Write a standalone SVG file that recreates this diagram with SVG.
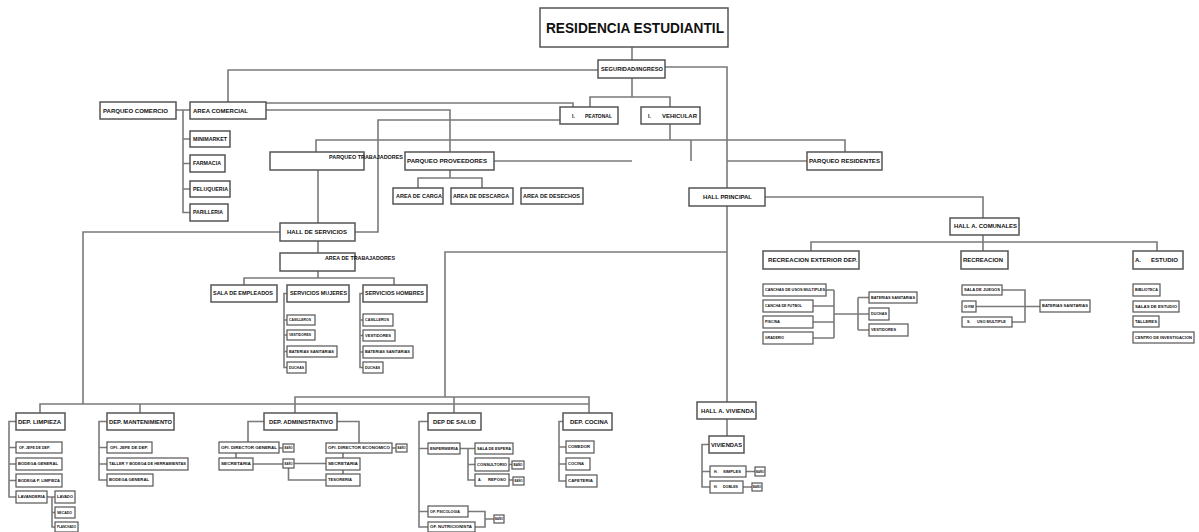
<svg xmlns="http://www.w3.org/2000/svg" width="1199" height="532" viewBox="0 0 1199 532">
<style>
rect{fill:#fff;stroke:#555;stroke-width:1.5}
rect.s{stroke-width:1.2}
text{font-family:"Liberation Sans",Arial,sans-serif;fill:#111;font-weight:bold}
.t{font-size:15px}
.l{font-size:6px}
.m{font-size:5.2px}
.s{font-size:3.6px}
.x{font-size:2.8px}
#connectors path{fill:none;stroke:#7a7a7a;stroke-width:1.6}
</style>
<rect x="0" y="0" width="1199" height="532" style="fill:#fff;stroke:none"/>
<g id="connectors">
<path d="M632 47V60"/>
<path d="M598 70H228V102"/>
<path d="M665 67H727V402"/>
<path d="M632 78V97M590 107V97H670V140"/>
<path d="M266 103H573V107"/>
<path d="M266 110H450V152"/>
<path d="M560 120H378V232H355"/>
<path d="M316 152V140H845V152M691 140V161"/>
<path d="M494 161H632"/>
<path d="M727 161H807"/>
<path d="M450 170V178M418 188V178H482V188"/>
<path d="M318 170V223"/>
<path d="M280 232H83V404"/>
<path d="M318 241V253M318 271V278M244 285V278H394V285"/>
<path d="M287 293.5H284V367.5H287M284 320H287M284 335H287M284 351.5H287"/>
<path d="M363 293.5H360V367.5H363M360 320H363M360 335.5H363M360 352H363"/>
<path d="M727 252H445V397"/>
<path d="M295 413V397H589V413M40 413V404H589M140 404V413M454 397V413"/>
<path d="M176 110H190M183 110V212.5H190M183 139H190M183 163.5H190M183 189H190"/>
<path d="M16 421.5H9V497H16M9 447.5H16M9 464H16M9 480.5H16"/>
<path d="M47 497H55M52 497V527H55M52 512.5H55"/>
<path d="M107 421.5H99V480H107M99 447.5H107M99 464H107"/>
<path d="M264 421.5H248V442M279 448H283M236 453V458M253 464H283M294 463.5H326M288.5 468V480H326"/>
<path d="M337 421.5H359V443M392 448H396M343 453V458M343 470V474"/>
<path d="M428 421.5H419V527H428M419 448.5H428M419 511.5H428M460 448.5H475M468 448.5V480H475M468 464.5H475M509 464.5H512M509 480H513M468 511.5H485V527H475M485 519H494"/>
<path d="M563 421.5H559V481H566M559 447H566M559 464H566"/>
<path d="M727 419V436M709 444.5H702V487H710M702 471.5H710M746 471.5H755M743 487H752"/>
<path d="M765 197H983V218M983 235V242M811 251V242H1157V251M983 242V251"/>
<path d="M826 290H834M813 306H834M813 322H834M813 338H834M834 290V338M834 314H858M858 297.5V330M858 297.5H869M858 314H869M858 330H869"/>
<path d="M1002 290H1025V322H1012M976 306.5H1040"/>
</g>
<g id="n-title"><rect x="540" y="8" width="188" height="39"/><text class="t" x="546" y="33" textLength="178" lengthAdjust="spacingAndGlyphs">RESIDENCIA ESTUDIANTIL</text></g>
<g id="n-seguridad"><rect x="598" y="60" width="67" height="18"/><text class="m" x="601" y="71" textLength="62" lengthAdjust="spacingAndGlyphs">SEGURIDAD/INGRESO</text></g>
<g id="n-peatonal"><rect x="560" y="107" width="58" height="17"/><text class="m" y="117.5"><tspan x="572">I.</tspan><tspan x="585" textLength="27" lengthAdjust="spacingAndGlyphs">PEATONAL</tspan></text></g>
<g id="n-vehicular"><rect x="641" y="107" width="59" height="17"/><text class="m" y="117.5"><tspan x="648">I.</tspan><tspan x="662" textLength="35" lengthAdjust="spacingAndGlyphs">VEHICULAR</tspan></text></g>
<g id="n-pcomercio"><rect x="100" y="102" width="76" height="17"/><text class="l" x="103" y="112.5" textLength="65" lengthAdjust="spacingAndGlyphs">PARQUEO COMERCIO</text></g>
<g id="n-acomercial"><rect x="190" y="102" width="76" height="17"/><text class="l" x="193" y="112.5" textLength="55" lengthAdjust="spacingAndGlyphs">AREA COMERCIAL</text></g>
<g id="n-minimarket"><rect x="190" y="131" width="40" height="16"/><text class="m" x="193" y="140.8" textLength="34" lengthAdjust="spacingAndGlyphs">MINIMARKET</text></g>
<g id="n-farmacia"><rect x="190" y="155" width="35" height="17"/><text class="m" x="193" y="165.3" textLength="28" lengthAdjust="spacingAndGlyphs">FARMACIA</text></g>
<g id="n-peluqueria"><rect x="190" y="181" width="40" height="16"/><text class="m" x="193" y="190.8" textLength="35" lengthAdjust="spacingAndGlyphs">PELUQUERIA</text></g>
<g id="n-parilleria"><rect x="190" y="204" width="38" height="17"/><text class="m" x="193" y="214.3" textLength="30" lengthAdjust="spacingAndGlyphs">PARILLERIA</text></g>
<g id="n-ptrabajadores"><rect x="270" y="152" width="94" height="18"/><text class="m" x="329" y="158.8" textLength="74" lengthAdjust="spacingAndGlyphs">PARQUEO TRABAJADORES</text></g>
<g id="n-pproveedores"><rect x="405" y="152" width="89" height="18"/><text class="l" x="407" y="163" textLength="80" lengthAdjust="spacingAndGlyphs">PARQUEO PROVEEDORES</text></g>
<g id="n-presidentes"><rect x="807" y="152" width="75" height="18"/><text class="m" x="809" y="162.8" textLength="71" lengthAdjust="spacingAndGlyphs">PARQUEO RESIDENTES</text></g>
<g id="n-carga"><rect x="393" y="188" width="50" height="16"/><text class="m" x="396" y="197.8" textLength="46" lengthAdjust="spacingAndGlyphs">AREA DE CARGA</text></g>
<g id="n-descarga"><rect x="451" y="188" width="62" height="16"/><text class="m" x="453" y="197.8" textLength="56" lengthAdjust="spacingAndGlyphs">AREA DE DESCARGA</text></g>
<g id="n-desechos"><rect x="521" y="188" width="62" height="16"/><text class="m" x="523" y="197.8" textLength="57" lengthAdjust="spacingAndGlyphs">AREA DE DESECHOS</text></g>
<g id="n-hservicios"><rect x="280" y="223" width="75" height="18"/><text class="m" x="287" y="233.8" textLength="60" lengthAdjust="spacingAndGlyphs">HALL DE SERVICIOS</text></g>
<g id="n-atrabajadores"><rect x="280" y="253" width="75" height="18"/><text class="m" x="325" y="259.8" textLength="70" lengthAdjust="spacingAndGlyphs">AREA DE TRABAJADORES</text></g>
<g id="n-sempleados"><rect x="211" y="285" width="66" height="17"/><text class="m" x="213" y="295.3" textLength="60" lengthAdjust="spacingAndGlyphs">SALA DE EMPLEADOS</text></g>
<g id="n-smujeres"><rect x="287" y="285" width="62" height="17"/><text class="m" x="290" y="295.3" textLength="57" lengthAdjust="spacingAndGlyphs">SERVICIOS MUJERES</text></g>
<g id="n-shombres"><rect x="363" y="285" width="64" height="17"/><text class="m" x="365" y="295.3" textLength="59" lengthAdjust="spacingAndGlyphs">SERVICIOS HOMBRES</text></g>
<g id="n-m-casilleros"><rect class="s" x="287" y="315" width="28" height="10"/><text class="s" x="289" y="321.3" textLength="22" lengthAdjust="spacingAndGlyphs">CASILLEROS</text></g>
<g id="n-m-vestidores"><rect class="s" x="287" y="330" width="28" height="10"/><text class="s" x="289" y="336.3" textLength="22" lengthAdjust="spacingAndGlyphs">VESTIDORES</text></g>
<g id="n-m-baterias"><rect class="s" x="287" y="346" width="50" height="11"/><text class="s" x="289" y="352.8" textLength="45" lengthAdjust="spacingAndGlyphs">BATERIAS SANITARIAS</text></g>
<g id="n-m-duchas"><rect class="s" x="287" y="362" width="19" height="11"/><text class="s" x="289" y="368.8" textLength="15" lengthAdjust="spacingAndGlyphs">DUCHAS</text></g>
<g id="n-h-casilleros"><rect class="s" x="363" y="314" width="30" height="12"/><text class="s" x="365" y="321.3" textLength="24" lengthAdjust="spacingAndGlyphs">CASILLEROS</text></g>
<g id="n-h-vestidores"><rect class="s" x="363" y="330" width="32" height="11"/><text class="s" x="365" y="336.8" textLength="26" lengthAdjust="spacingAndGlyphs">VESTIDORES</text></g>
<g id="n-h-baterias"><rect class="s" x="363" y="346" width="50" height="12"/><text class="s" x="365" y="353.3" textLength="45" lengthAdjust="spacingAndGlyphs">BATERIAS SANITARIAS</text></g>
<g id="n-h-duchas"><rect class="s" x="363" y="362" width="20" height="11"/><text class="s" x="365" y="368.8" textLength="15" lengthAdjust="spacingAndGlyphs">DUCHAS</text></g>
<g id="n-hprincipal"><rect x="689" y="188" width="76" height="18"/><text class="m" x="703" y="198.8" textLength="49" lengthAdjust="spacingAndGlyphs">HALL PRINCIPAL</text></g>
<g id="n-hcomunales"><rect x="950" y="218" width="69" height="17"/><text class="m" x="954" y="228.3" textLength="63" lengthAdjust="spacingAndGlyphs">HALL A. COMUNALES</text></g>
<g id="n-recext"><rect x="763" y="251" width="96" height="18"/><text class="l" x="768" y="262" textLength="89" lengthAdjust="spacingAndGlyphs">RECREACION EXTERIOR DEP.</text></g>
<g id="n-recreacion"><rect x="961" y="251" width="47" height="18"/><text class="l" x="963" y="262" textLength="40" lengthAdjust="spacingAndGlyphs">RECREACION</text></g>
<g id="n-estudio"><rect x="1133" y="251" width="50" height="18"/><text class="l" y="262"><tspan x="1135">A.</tspan><tspan x="1151" textLength="27" lengthAdjust="spacingAndGlyphs">ESTUDIO</tspan></text></g>
<g id="n-canchas"><rect class="s" x="763" y="284" width="63" height="12"/><text class="s" x="765" y="291.3" textLength="60" lengthAdjust="spacingAndGlyphs">CANCHAS DE USOS MULTIPLES</text></g>
<g id="n-futbol"><rect class="s" x="763" y="300" width="50" height="12"/><text class="s" x="765" y="307.3" textLength="37" lengthAdjust="spacingAndGlyphs">CANCHA DE FUTBOL</text></g>
<g id="n-piscina"><rect class="s" x="763" y="316" width="50" height="12"/><text class="s" x="765" y="323.3" textLength="15" lengthAdjust="spacingAndGlyphs">PISCINA</text></g>
<g id="n-graderio"><rect class="s" x="763" y="332" width="50" height="12"/><text class="s" x="765" y="339.3" textLength="19" lengthAdjust="spacingAndGlyphs">GRADERIO</text></g>
<g id="n-e-baterias"><rect class="s" x="869" y="292" width="48" height="11"/><text class="s" x="871" y="298.8" textLength="44" lengthAdjust="spacingAndGlyphs">BATERIAS SANITARIAS</text></g>
<g id="n-e-duchas"><rect class="s" x="869" y="308" width="20" height="12"/><text class="s" x="871" y="315.3" textLength="16" lengthAdjust="spacingAndGlyphs">DUCHAS</text></g>
<g id="n-e-vestidores"><rect class="s" x="869" y="324" width="39" height="12"/><text class="s" x="871" y="331.3" textLength="25" lengthAdjust="spacingAndGlyphs">VESTIDORES</text></g>
<g id="n-juegos"><rect class="s" x="962" y="285" width="40" height="10"/><text class="s" x="964" y="291.2" textLength="36" lengthAdjust="spacingAndGlyphs">SALA DE JUEGOS</text></g>
<g id="n-gym"><rect class="s" x="962" y="301" width="14" height="11"/><text class="s" x="964" y="307.8" textLength="10" lengthAdjust="spacingAndGlyphs">GYM</text></g>
<g id="n-usomultiple"><rect class="s" x="962" y="317" width="50" height="10"/><text class="s" y="323.2"><tspan x="967">S.</tspan><tspan x="977" textLength="29" lengthAdjust="spacingAndGlyphs">USO MULTIPLE</tspan></text></g>
<g id="n-r-baterias"><rect class="s" x="1040" y="300" width="50" height="12"/><text class="s" x="1042" y="307.3" textLength="46" lengthAdjust="spacingAndGlyphs">BATERIAS SANITARIAS</text></g>
<g id="n-biblioteca"><rect class="s" x="1133" y="284" width="27" height="12"/><text class="s" x="1135" y="291.3" textLength="23" lengthAdjust="spacingAndGlyphs">BIBLIOTECA</text></g>
<g id="n-salasestudio"><rect class="s" x="1133" y="301" width="46" height="11"/><text class="s" x="1135" y="307.8" textLength="42" lengthAdjust="spacingAndGlyphs">SALAS DE ESTUDIO</text></g>
<g id="n-talleres"><rect class="s" x="1133" y="316" width="26" height="11"/><text class="s" x="1135" y="322.8" textLength="22" lengthAdjust="spacingAndGlyphs">TALLERES</text></g>
<g id="n-centro"><rect class="s" x="1133" y="332" width="61" height="11"/><text class="s" x="1135" y="338.8" textLength="57" lengthAdjust="spacingAndGlyphs">CENTRO DE INVESTIGACION</text></g>
<g id="n-dlimpieza"><rect x="16" y="413" width="49" height="17"/><text class="l" x="18" y="423.5" textLength="43" lengthAdjust="spacingAndGlyphs">DEP. LIMPIEZA</text></g>
<g id="n-dmantenimiento"><rect x="107" y="413" width="67" height="17"/><text class="l" x="109" y="423.5" textLength="63" lengthAdjust="spacingAndGlyphs">DEP. MANTENIMIENTO</text></g>
<g id="n-dadministrativo"><rect x="264" y="413" width="73" height="17"/><text class="l" x="269" y="423.5" textLength="64" lengthAdjust="spacingAndGlyphs">DEP. ADMINISTRATIVO</text></g>
<g id="n-dsalud"><rect x="428" y="413" width="53" height="17"/><text class="l" x="433" y="423.5" textLength="43" lengthAdjust="spacingAndGlyphs">DEP DE SALUD</text></g>
<g id="n-dcocina"><rect x="563" y="413" width="49" height="17"/><text class="l" x="570" y="423.5" textLength="38" lengthAdjust="spacingAndGlyphs">DEP. COCINA</text></g>
<g id="n-l-jefe"><rect class="s" x="16" y="442" width="46" height="11"/><text class="s" x="19" y="448.8" textLength="31" lengthAdjust="spacingAndGlyphs">OF. JEFE DE DEP.</text></g>
<g id="n-l-bodega"><rect class="s" x="16" y="458" width="46" height="12"/><text class="s" x="18" y="465.3" textLength="40" lengthAdjust="spacingAndGlyphs">BODEGA GENERAL</text></g>
<g id="n-l-bodegap"><rect class="s" x="16" y="474" width="46" height="13"/><text class="s" x="18" y="481.8" textLength="42" lengthAdjust="spacingAndGlyphs">BODEGA P. LIMPIEZA</text></g>
<g id="n-l-lavanderia"><rect class="s" x="16" y="491" width="31" height="12"/><text class="s" x="18" y="498.3" textLength="27" lengthAdjust="spacingAndGlyphs">LAVANDERIA</text></g>
<g id="n-l-lavado"><rect class="s" x="55" y="491" width="20" height="12"/><text class="s" x="57" y="498.3" textLength="16" lengthAdjust="spacingAndGlyphs">LAVADO</text></g>
<g id="n-l-secado"><rect class="s" x="55" y="507" width="20" height="11"/><text class="s" x="57" y="513.8" textLength="15" lengthAdjust="spacingAndGlyphs">SECADO</text></g>
<g id="n-l-planchado"><rect class="s" x="55" y="522" width="23" height="10"/><text class="s" x="57" y="528.3" textLength="19" lengthAdjust="spacingAndGlyphs">PLANCHADO</text></g>
<g id="n-m-jefe"><rect class="s" x="107" y="442" width="45" height="11"/><text class="s" x="110" y="448.8" textLength="38" lengthAdjust="spacingAndGlyphs">OFI. JEFE DE DEP.</text></g>
<g id="n-m-taller"><rect class="s" x="107" y="458" width="81" height="12"/><text class="s" x="109" y="465.3" textLength="77" lengthAdjust="spacingAndGlyphs">TALLER Y BODEGA DE HERRAMIENTAS</text></g>
<g id="n-m-bodega"><rect class="s" x="107" y="474" width="46" height="12"/><text class="s" x="109" y="481.3" textLength="40" lengthAdjust="spacingAndGlyphs">BODEGA GENERAL</text></g>
<g id="n-a-dirgeneral"><rect class="s" x="219" y="442" width="60" height="11"/><text class="s" x="221" y="448.8" textLength="56" lengthAdjust="spacingAndGlyphs">OFI. DIRECTOR GENERAL</text></g>
<g id="n-a-bano1"><rect class="s" x="283" y="444" width="11" height="8"/><text class="x" x="284.5" y="449.2" textLength="8" lengthAdjust="spacingAndGlyphs">BAÑO</text></g>
<g id="n-a-secretaria1"><rect class="s" x="219" y="458" width="34" height="12"/><text class="s" x="221" y="465.3" textLength="30" lengthAdjust="spacingAndGlyphs">SECRETARIA</text></g>
<g id="n-a-bano2"><rect class="s" x="283" y="459" width="11" height="9"/><text class="x" x="284.5" y="464.6" textLength="8" lengthAdjust="spacingAndGlyphs">BAÑO</text></g>
<g id="n-a-direconomico"><rect class="s" x="326" y="443" width="66" height="10"/><text class="s" x="328" y="449.3" textLength="62" lengthAdjust="spacingAndGlyphs">OFI. DIRECTOR ECONOMICO</text></g>
<g id="n-a-bano3"><rect class="s" x="396" y="444" width="11" height="8"/><text class="x" x="397.5" y="449.2" textLength="8" lengthAdjust="spacingAndGlyphs">BAÑO</text></g>
<g id="n-a-secretaria2"><rect class="s" x="326" y="458" width="34" height="12"/><text class="s" x="328" y="465.3" textLength="30" lengthAdjust="spacingAndGlyphs">SECRETARIA</text></g>
<g id="n-a-tesoreria"><rect class="s" x="326" y="474" width="34" height="12"/><text class="s" x="328" y="481.3" textLength="24" lengthAdjust="spacingAndGlyphs">TESORERIA</text></g>
<g id="n-s-enfermeria"><rect class="s" x="428" y="443" width="32" height="11"/><text class="s" x="430" y="449.8" textLength="28" lengthAdjust="spacingAndGlyphs">ENFERMERIA</text></g>
<g id="n-s-espera"><rect class="s" x="475" y="443" width="38" height="11"/><text class="s" x="477" y="449.8" textLength="34" lengthAdjust="spacingAndGlyphs">SALA DE ESPERA</text></g>
<g id="n-s-consultorio"><rect class="s" x="475" y="458" width="34" height="13"/><text class="s" x="477" y="465.8" textLength="30" lengthAdjust="spacingAndGlyphs">CONSULTORIO</text></g>
<g id="n-s-bano1"><rect class="s" x="512" y="461" width="12" height="8"/><text class="x" x="513.5" y="466.2" textLength="9" lengthAdjust="spacingAndGlyphs">BAÑO</text></g>
<g id="n-s-reposo"><rect class="s" x="475" y="474" width="34" height="12"/><text class="s" y="481.3"><tspan x="478">A.</tspan><tspan x="488" textLength="18" lengthAdjust="spacingAndGlyphs">REPOSO</tspan></text></g>
<g id="n-s-bano2"><rect class="s" x="513" y="477" width="11" height="8"/><text class="x" x="514.5" y="482.2" textLength="8" lengthAdjust="spacingAndGlyphs">BAÑO</text></g>
<g id="n-s-psicologia"><rect class="s" x="428" y="506" width="40" height="11"/><text class="s" x="430" y="512.8" textLength="30" lengthAdjust="spacingAndGlyphs">OF. PSICOLOGIA</text></g>
<g id="n-s-nutricionista"><rect class="s" x="428" y="522" width="47" height="10"/><text class="s" x="430" y="528.3" textLength="42" lengthAdjust="spacingAndGlyphs">OF. NUTRICIONISTA</text></g>
<g id="n-s-bano3"><rect class="s" x="494" y="515" width="10" height="8"/><text class="x" x="495" y="520.2" textLength="8" lengthAdjust="spacingAndGlyphs">BAÑO</text></g>
<g id="n-c-comedor"><rect class="s" x="566" y="441" width="28" height="12"/><text class="s" x="568" y="448.3" textLength="22" lengthAdjust="spacingAndGlyphs">COMEDOR</text></g>
<g id="n-c-cocina"><rect class="s" x="566" y="458" width="24" height="12"/><text class="s" x="568" y="465.3" textLength="16" lengthAdjust="spacingAndGlyphs">COCINA</text></g>
<g id="n-c-cafeteria"><rect class="s" x="566" y="475" width="31" height="12"/><text class="s" x="568" y="482.3" textLength="25" lengthAdjust="spacingAndGlyphs">CAFETERIA</text></g>
<g id="n-hvivienda"><rect x="697" y="402" width="59" height="17"/><text class="l" x="701" y="412.5" textLength="53" lengthAdjust="spacingAndGlyphs">HALL A. VIVIENDA</text></g>
<g id="n-viviendas"><rect x="709" y="436" width="35" height="17"/><text class="m" x="711" y="446.5" textLength="31" lengthAdjust="spacingAndGlyphs">VIVIENDAS</text></g>
<g id="n-simples"><rect class="s" x="710" y="466" width="36" height="11"/><text class="s" y="472.8"><tspan x="714">H.</tspan><tspan x="723" textLength="18" lengthAdjust="spacingAndGlyphs">SIMPLES</tspan></text></g>
<g id="n-v-bano1"><rect class="s" x="755" y="467" width="10" height="9"/><text class="x" x="756" y="472.7" textLength="8" lengthAdjust="spacingAndGlyphs">BAÑO</text></g>
<g id="n-dobles"><rect class="s" x="710" y="481" width="33" height="12"/><text class="s" y="488.3"><tspan x="714">H.</tspan><tspan x="723" textLength="15" lengthAdjust="spacingAndGlyphs">DOBLES</tspan></text></g>
<g id="n-v-bano2"><rect class="s" x="752" y="483" width="10" height="8"/><text class="x" x="753" y="488.2" textLength="8" lengthAdjust="spacingAndGlyphs">BAÑO</text></g>
</svg>
